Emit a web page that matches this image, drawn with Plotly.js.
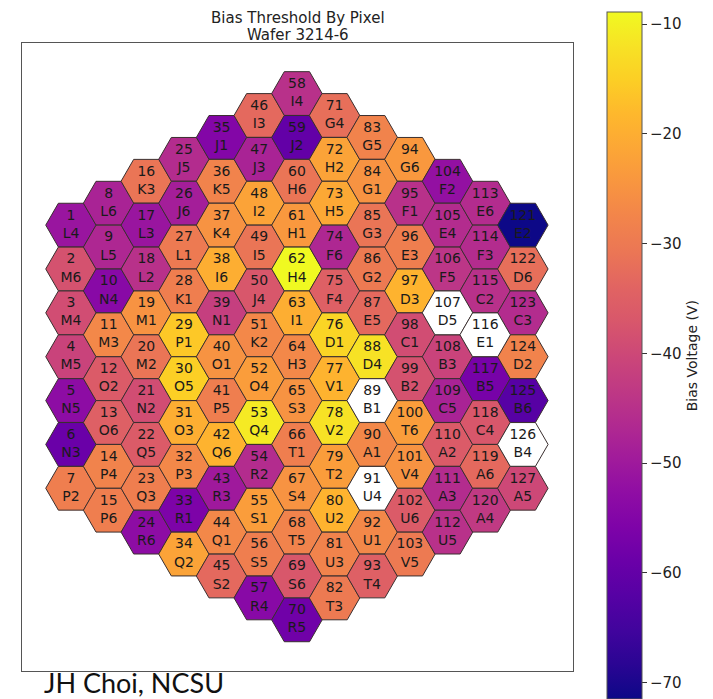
<!DOCTYPE html>
<html>
<head>
<meta charset="utf-8">
<script src="https://cdn.plot.ly/plotly-3.0.1.min.js"></script>
<style>html,body{margin:0;padding:0;background:#fff;}#chart{width:713px;height:699px;}</style>
</head>
<body>
<div id="chart"></div>
<script>
// Pad codes per hexagon column (left to right, top to bottom)
const padsByCol = [
  ["L4","M6","M4","M5","N5","N3","P2"],
  ["L6","L5","N4","M3","O2","O6","P4","P6"],
  ["K3","L3","L2","M1","M2","N2","Q5","Q3","R6"],
  ["J5","J6","L1","K1","P1","O5","O3","P3","R1","Q2"],
  ["J1","K5","K4","I6","N1","O1","P5","Q6","R3","Q1","S2"],
  ["I3","J3","I2","I5","J4","K2","O4","Q4","R2","S1","S5","R4"],
  ["I4","J2","H6","H1","H4","I1","H3","S3","T1","S4","T5","S6","R5"],
  ["G4","H2","H5","F6","F4","D1","V1","V2","T2","U2","U3","T3"],
  ["G5","G1","G3","G2","E5","D4","B1","A1","U4","U1","T4"],
  ["G6","F1","E3","D3","C1","B2","T6","V4","U6","V5"],
  ["F2","E4","F5","D5","B3","C5","A2","A3","U5"],
  ["E6","F3","C2","E1","B5","C4","A6","A4"],
  ["E2","D6","C3","D2","B6","B4","A5"]
];
// Bias threshold voltage (V) per pad, null = no value (white)
const biasByCol = [
  [-51,-38,-39,-41,-53,-59,-29],
  [-48,-47,-54,-27,-36,-35,-28,-29],
  [-31,-51,-45,-25,-31,-39,-36,-29,-53],
  [-46,-49,-30,-29,-16,-15,-20,-27,-56,-22],
  [-55,-28,-25,-20,-42,-25,-29,-19,-50,-27,-33],
  [-33,-48,-22,-31,-37,-27,-23,-11,-46,-23,-29,-54],
  [-45,-60,-31,-24,-8.9,-20,-27,-25,-29,-25,-28,-37,-58],
  [-32,-22,-21,-47,-35,-14,-19,-12,-23,-19,-28,-30],
  [-28,-25,-31,-30,-33,-12,null,-27,null,-27,-35],
  [-24,-45,-29,-19,-39,-38,-23,-25,-36,-30],
  [-52,-46,-44,null,-41,-48,-36,-46,-45],
  [-46,-46,-45,null,-57,-37,-33,-43],
  [-71.5,-32,-46,-28,-62,null,-40]
];
const chartTitle = "Bias Threshold By Pixel";
const chartSubtitle = "Wafer 3214-6";
const colorbarTitle = "Bias Voltage (V)";
const credit = "JH Choi, NCSU";
const cbTicks = [-70,-60,-50,-40,-30,-20,-10];

// matplotlib "plasma" colormap samples
const plasma = [
  [0.00,"#0d0887"],[0.05,"#2a0593"],[0.10,"#41049d"],[0.15,"#5601a4"],
  [0.20,"#6a00a8"],[0.25,"#7e03a8"],[0.30,"#8f0da4"],[0.35,"#a11b9b"],
  [0.40,"#b12a90"],[0.45,"#bf3984"],[0.50,"#cc4778"],[0.55,"#d8576b"],
  [0.60,"#e16462"],[0.65,"#eb7655"],[0.70,"#f2844b"],[0.75,"#f89540"],
  [0.80,"#fca636"],[0.85,"#feb72d"],[0.90,"#fcce25"],[0.95,"#f7e225"],
  [1.00,"#f0f921"]
];

// Build hex grid (column index -> x, half-row offset -> y)
const maxN = Math.max(...padsByCol.map(c => c.length));
let cx=[],cy=[],cv=[],ct=[], wx=[],wy=[],wt=[];
let id = 1;
padsByCol.forEach((col, c) => {
  const off = (maxN - col.length) / 2;
  col.forEach((pad, i) => {
    const v = biasByCol[c][i];
    const label = id + "<br>" + pad;
    if (v === null) { wx.push(c); wy.push(off + i); wt.push(label); }
    else { cx.push(c); cy.push(off + i); cv.push(v); ct.push(label); }
    id++;
  });
});

const hexSize = 50.5;
const edge = {color: "#3a2f2f", width: 1};
const txtFont = {family: "DejaVu Sans", size: 14, color: "#1a1a1a"};

const traces = [
  {
    type: "scatter", mode: "markers+text", x: cx, y: cy, text: ct,
    textposition: "middle center", textfont: txtFont, hoverinfo: "skip",
    cliponaxis: false,
    marker: {
      symbol: "hexagon2", size: hexSize, color: cv, colorscale: plasma,
      line: edge, showscale: true,
      colorbar: {
        title: {text: colorbarTitle, side: "right", font: {family: "DejaVu Sans", size: 14, color: "#222"}},
        thickness: 35, thicknessmode: "pixels",
        len: 687, lenmode: "pixels",
        x: (616 - 22) / 559, xanchor: "left", xref: "paper",
        y: (671 - 10) / 630, yanchor: "top", yref: "paper",
        xpad: 0, ypad: 0,
        outlinewidth: 1, outlinecolor: "#555",
        ticks: "outside", ticklen: 5, tickcolor: "#333",
        tickvals: cbTicks,
        tickfont: {family: "DejaVu Sans", size: 15, color: "#222"}
      }
    }
  },
  {
    type: "scatter", mode: "markers+text", x: wx, y: wy, text: wt,
    textposition: "middle center", textfont: txtFont, hoverinfo: "skip",
    cliponaxis: false,
    marker: {symbol: "hexagon2", size: hexSize, color: "#ffffff", line: edge},
    showlegend: false
  }
];

const colPx = 38.2, rowPx = 44, col0 = 71.7, row0 = 91.7;
const L = 22, R = 581, T = 41, B = 671;

const layout = {
  width: 713, height: 699,
  margin: {l: L, r: 713 - R, t: T, b: 699 - B, pad: 0},
  paper_bgcolor: "#fff", plot_bgcolor: "#fff",
  showlegend: false,
  xaxis: {range: [(L - col0) / colPx, (R - col0) / colPx], showgrid: false, zeroline: false,
          showticklabels: false, ticks: "", showline: true, mirror: true, linecolor: "#555", linewidth: 1, fixedrange: true},
  yaxis: {range: [(B - row0) / rowPx, (T - row0) / rowPx], showgrid: false, zeroline: false,
          showticklabels: false, ticks: "", showline: true, mirror: true, linecolor: "#555", linewidth: 1, fixedrange: true},
  annotations: [
    {text: chartTitle, xref: "paper", yref: "paper", x: 0.5, y: (B - 16) / (B - T), xanchor: "center", yanchor: "middle",
     showarrow: false, font: {family: "DejaVu Sans", size: 15, color: "#222"}},
    {text: chartSubtitle, xref: "paper", yref: "paper", x: 0.5, y: (B - 33) / (B - T), xanchor: "center", yanchor: "middle",
     showarrow: false, font: {family: "DejaVu Sans", size: 15, color: "#222"}},
    {text: credit, xref: "paper", yref: "paper", x: (42 - L) / (R - L), y: (B - 683) / (B - T), xanchor: "left", yanchor: "middle",
     showarrow: false, font: {family: "Lato", size: 27, color: "#111"}}
  ]
};

Plotly.newPlot("chart", traces, layout, {displayModeBar: false, staticPlot: true});
</script>
</body>
</html>
